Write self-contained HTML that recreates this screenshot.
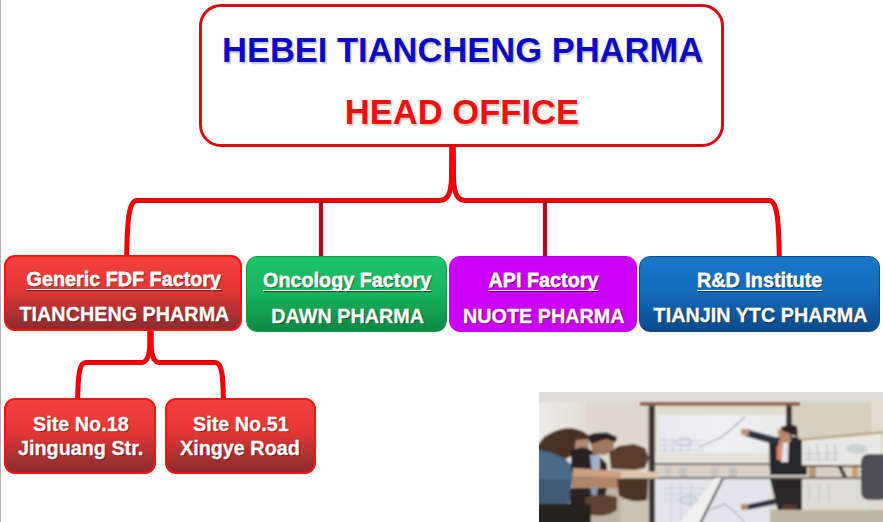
<!DOCTYPE html>
<html><head><meta charset="utf-8">
<style>
html,body{margin:0;padding:0;width:883px;height:522px;overflow:hidden;background:#fff;}
body{position:relative;font-family:"Liberation Sans",sans-serif;font-weight:bold;}
.vl{position:absolute;left:0;top:0;width:1px;height:522px;background:#b4b4b4;}
svg.lines{position:absolute;left:0;top:0;}
.head{position:absolute;left:199px;top:3.6px;width:525px;height:143.4px;box-sizing:border-box;border:3px solid #da0a12;border-radius:22px;background:#fff;}
.t{position:absolute;white-space:nowrap;line-height:0;}
.title{font-size:34.5px;color:#0b0bc4;text-shadow:1.5px 1.5px 1.5px rgba(140,140,100,0.45);}
.ho{font-size:34.6px;color:#ee1010;text-shadow:1.5px 1.5px 1.5px rgba(140,140,100,0.45);}
.box{position:absolute;box-sizing:border-box;border-radius:11px;}
.red{background:linear-gradient(#f3423e,#e23634 45%,#8a2c30);border:2px solid #f21414;}
.green{background:linear-gradient(#1dc66b,#18b25c 50%,#0f8842);border:1.5px solid #159a4c;}
.purple{background:#cc00f5;border:1.5px solid #b800e6;}
.blue{background:linear-gradient(#1a78cc,#136cbc 45%,#0b4a8c);border:1.5px solid #17497a;}
.w{font-size:19.8px;color:#fff;-webkit-text-stroke:0.3px #fff;text-shadow:1px 1px 1px rgba(40,0,0,0.6);}
.u{text-decoration:underline;text-decoration-thickness:1.2px;text-underline-offset:2.5px;text-decoration-skip-ink:none;}
</style></head><body>
<div class="vl"></div>
<svg class="lines" width="883" height="522" viewBox="0 0 883 522">
  <defs><g id="br">
    <path d="M126.7,256 C127.3,222 128.5,200.4 137,200.4 L440,200.4 C447,200.4 451,195 451.5,178 L451.7,146"/>
    <path d="M779.3,256 C778.7,222 777.5,200.4 769,200.4 L465,200.4 C458,200.4 454,195 453.5,178 L453.3,146"/>
    <path d="M77.6,400 C78.2,375 79,362.6 86,362.6 L141,362.6 C147,362.6 149.5,356 149.8,345 L149.8,329"/>
    <path d="M223.4,400 C223,375 222,362.6 215,362.6 L160,362.6 C154,362.6 151.5,356 151.2,345 L151.2,329"/>
  </g></defs>
  <use href="#br" fill="none" stroke="#d0000c" stroke-width="5"/>
  <use href="#br" fill="none" stroke="#fa0000" stroke-width="3.4"/>
  <g stroke="#ae0c20" stroke-width="4.2">
    <path d="M321,201 L321,257"/>
    <path d="M545,201 L545,257"/>
  </g>
</svg>
<div class="head"></div>
<div class="t title" style="left:222px;top:50.3px">HEBEI TIANCHENG PHARMA</div>
<div class="t ho" style="left:344.7px;top:112px">HEAD OFFICE</div>

<div class="box red" style="left:4px;top:255px;width:238px;height:76px"></div>
<div class="box green" style="left:246px;top:256px;width:201px;height:76px"></div>
<div class="box purple" style="left:449px;top:256px;width:188px;height:76px"></div>
<div class="box blue" style="left:639px;top:256px;width:241px;height:76px"></div>

<div class="t w u" style="left:26.5px;top:279px">Generic FDF Factory</div>
<div class="t w" style="left:19.5px;top:313.7px">TIANCHENG PHARMA</div>
<div class="t w u" style="left:263px;top:280px">Oncology Factory</div>
<div class="t w" style="left:271.3px;top:315.6px">DAWN PHARMA</div>
<div class="t w u" style="left:488.5px;top:280px">API Factory</div>
<div class="t w" style="left:463px;top:316px">NUOTE PHARMA</div>
<div class="t w u" style="left:697px;top:280px">R&amp;D Institute</div>
<div class="t w" style="left:653.6px;top:315px">TIANJIN YTC PHARMA</div>

<div class="box red" style="left:4px;top:398px;width:152px;height:76px"></div>
<div class="box red" style="left:165px;top:398px;width:151px;height:76px"></div>
<div class="t w" style="left:33px;top:424px">Site No.18</div>
<div class="t w" style="left:18px;top:448px">Jinguang Str.</div>
<div class="t w" style="left:193px;top:424px">Site No.51</div>
<div class="t w" style="left:180px;top:448px">Xingye Road</div>

<svg id="photo" style="position:absolute;left:539px;top:392px" width="344" height="130" viewBox="0 0 344 130">
<defs><filter id="bl" x="-5%" y="-5%" width="110%" height="110%"><feGaussianBlur stdDeviation="0.9"/></filter>
<linearGradient id="lw" x1="0" x2="1"><stop offset="0" stop-color="#eeece6"/><stop offset="1" stop-color="#e2dfd6"/></linearGradient>
<linearGradient id="scr" x1="0" x2="1"><stop offset="0" stop-color="#e6e9ee"/><stop offset="0.5" stop-color="#f0f1f4"/><stop offset="1" stop-color="#e8e8e8"/></linearGradient></defs>
<g filter="url(#bl)">
<rect x="-3" y="-3" width="352" height="138" fill="#ddd9cf"/>
<rect x="-3" y="-3" width="352" height="13" fill="#dfddd7"/>
<rect x="-3" y="10" width="49" height="70" fill="url(#lw)"/>
<rect x="253" y="10" width="95" height="40" fill="#d7d0bf"/><rect x="332" y="9" width="16" height="50" fill="#e0dccf"/>
<!-- screen -->
<rect x="101" y="10" width="160" height="3.7" fill="#845636"/>
<rect x="116" y="13.7" width="131" height="57" fill="#e2dccd"/>
<rect x="118.5" y="22.5" width="128.5" height="39" fill="url(#scr)"/>
<path d="M161,55 L181,46 L189,40 L206,25" stroke="#a0a5ad" stroke-width="1.2" fill="none"/>
<path d="M120,48 L165,48 M120,53 L165,53 M120,58 L165,58 M126,46 L126,61 M134,46 L134,61 M142,46 L142,61 M150,46 L150,61" stroke="#c6cad0" stroke-width="1" fill="none"/>
<ellipse cx="145" cy="50" rx="8" ry="3.5" fill="none" stroke="#b0b4ba" stroke-width="1"/>
<rect x="109.7" y="13.7" width="6.3" height="118" fill="#3a3630"/>
<rect x="247" y="13.7" width="6" height="60" fill="#3a3630"/>
<rect x="116" y="61" width="131" height="10" fill="#e4e1d8"/>
<rect x="116" y="71" width="206" height="2" fill="#6c6050"/>
<rect x="116" y="73" width="206" height="12" fill="#d6d1c6"/>
<rect x="-3" y="85" width="352" height="2" fill="#6a6258"/>
<rect x="116" y="87" width="115" height="45" fill="#e2e6ea"/>
<path d="M125,96 L180,96 M125,102 L175,102 M125,108 L170,108 M132,92 L132,130 M142,92 L142,130 M152,92 L152,130" stroke="#c4ccd4" stroke-width="1" fill="none"/>
<ellipse cx="150" cy="108" rx="9" ry="4" fill="none" stroke="#a8b0b8" stroke-width="1"/>
<path d="M140,132 L176,86 L184,86 L160,132Z" fill="#f0f0f0"/><path d="M161,132 L184,86" stroke="#505458" stroke-width="2.2"/>
<path d="M171,118 L186,112 L198,122 L205,130" stroke="#8c949c" stroke-width="1" fill="none"/>
<rect x="126" y="75" width="6" height="10" fill="#c6c4bc"/>
<rect x="140" y="75" width="8" height="10" fill="#c4c2ba"/>
<rect x="172" y="75" width="7" height="10" fill="#c6c4bc"/>
<rect x="190" y="75" width="8" height="10" fill="#c2c0b8"/>
<!-- left people -->
<rect x="52" y="87" width="58" height="45" fill="#bcb4a6"/>
<rect x="82" y="108" width="28" height="24" fill="#cac2b4"/>
<path d="M-3,55 L5,45 Q18,36 32,36 Q45,38 50,44 L49,48 L37,48 L36,62 L25,68 L10,62 L-3,62Z" fill="#4a3022"/>
<path d="M37,48 L50,47 L50,58 L44,64 L36,62Z" fill="#ae8a72"/>
<path d="M-3,57 L10,60 L25,66 L34,74 L37,78 L33,86 L30,114 L-3,114Z" fill="#4a6a88"/>
<path d="M32,58 L44,55 L52,58 L60,64 L68,72 L68,80 L32,80Z" fill="#2a2422"/>
<path d="M51,63 L61,63 L61,80 L53,80Z" fill="#a0b0c8"/>
<path d="M50,46 L76,47 L74,58 L66,63 L54,62Z" fill="#a07860"/>
<path d="M48,44 L55,41 L68,40.5 L78,45 L77,50 L67,47 L52,52Z" fill="#2a2420"/>
<path d="M70,60 L80,54 L95,52 L106,56 L110,66 L106,76 L96,78 L72,77Z" fill="#5a3c2c"/>
<path d="M34,76 L82,79 L82,86 L34,85Z" fill="#cca080"/>
<path d="M82,78 L120,80 L120,86 L82,86Z" fill="#dcc6ae"/>
<path d="M-3,87 L33,87 L30,113 L-3,113Z" fill="#405a74"/>
<path d="M33,86 L85,86 L85,96 L33,96Z" fill="#b08468"/>
<path d="M31,96 L68,96 L64,113 L31,113Z" fill="#2c2420"/>
<path d="M51,95 L59,95 L58,105 L53,105Z" fill="#8898ac"/>
<path d="M46,106 Q60,100 78,105 L78,118 Q66,127 48,122Z" fill="#5e4232"/>
<path d="M78,87 L109,87 L108,108 Q95,112 80,104Z" fill="#4e3426"/>
<rect x="-3" y="112" width="55" height="22" fill="#28201c"/>
<!-- presenter -->
<path d="M230,48 L242,44 L258,45 L268,52 L268,83 L231,83Z" fill="#28262a"/>
<path d="M242,46 L250,46 L249,70 L242,70Z" fill="#e4e4ea"/>
<path d="M238,48 L244,48 L243,68 L238,68Z" fill="#dc8a74"/>
<path d="M204,38 L210,38 L240,46 L240,54 L206,44Z" fill="#2e3240"/>
<rect x="202" y="37" width="8" height="6" fill="#c09070"/>
<path d="M238,38 L251,36 L252,50 L242,51Z" fill="#b8886a"/>
<path d="M241,36 L250,32 L258,34 L259,45 L252,42 L244,39Z" fill="#2a2220"/>
<path d="M231,87 L268,87 L266,123 L240,123Z" fill="#2a2828"/>
<path d="M206,113 L238,106 L238,112 L208,118Z" fill="#2e3240"/>
<rect x="202" y="112" width="7" height="6" fill="#b88a6a"/>
<rect x="243" y="113" width="15" height="10" fill="#5a3a2e"/>
<!-- flipchart -->
<path d="M263,46.5 L344,39 L344,41.5 L263,49Z" fill="#c0a47c"/>
<path d="M263,49 L342,42 L342,73 L263,73Z" fill="#e8e8e4"/>
<path d="M270,54 L270,70 M278,52 L280,70 M288,52 L288,70 M296,52 L296,70 M266,62 L300,61 M266,67 L300,67" stroke="#a8b0ba" stroke-width="0.8" fill="none"/>
<ellipse cx="318" cy="57" rx="11" ry="5" fill="#ccd4cc"/>
<rect x="263" y="73" width="60" height="2" fill="#5a4a3a"/>
<rect x="270" y="75" width="7" height="10" fill="#b8956a"/>
<path d="M299,75 L303,75 L308,85 L304,85Z" fill="#3a3028"/>
<rect x="313" y="75" width="6" height="10" fill="#c8a06a"/>
<rect x="263" y="87" width="68" height="31" fill="#dedcd6"/>
<path d="M270,92 L270,110 M280,92 L280,110 M290,92 L290,110" stroke="#b0b6be" stroke-width="0.8" fill="none"/>
<rect x="231" y="118" width="117" height="16" fill="#c0b8a6"/>
<rect x="322" y="62" width="28" height="46" rx="8" fill="#4e4e52"/>
</g>
</svg>
</body></html>
